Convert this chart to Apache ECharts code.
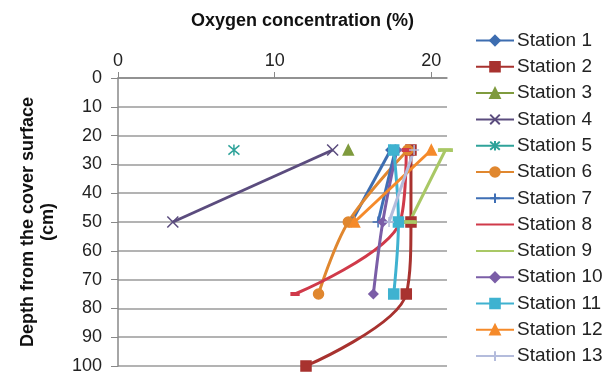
<!DOCTYPE html>
<html>
<head>
<meta charset="utf-8">
<script src="https://cdn.jsdelivr.net/npm/echarts@6/dist/echarts.min.js"></script>
<style>
  html, body { margin: 0; padding: 0; background: #fff; }
  #chart { width: 609px; height: 377px; }
</style>
</head>
<body>
<div id="chart"></div>
<script>
// depth of each sampling level (cm)
var depths = [25, 50, 75, 100];
var depthTicks = [0, 10, 20, 30, 40, 50, 60, 70, 80, 90, 100];
var oxygenTicks = [0, 10, 20];

// oxygen concentration (%) per station at each depth, null = not measured
var station1 = [17.4, 14.9, null, null];
var station2 = [18.7, 18.7, 18.4, 12.0];
var station3 = [14.7, null, null, null];
var station4 = [13.7, 3.5, null, null];
var station5 = [7.4, null, null, null];
var station6 = [18.5, 14.7, 12.8, null];
var station7 = [17.7, 16.6, null, null];
var station8 = [18.4, 18.0, 11.3, null];
var station9 = [20.9, 18.6, null, null];
var station10 = [17.8, 16.9, 16.3, null];
var station11 = [17.6, 17.9, 17.6, null];
var station12 = [20.0, 15.1, null, null];
var station13 = [18.9, 17.3, null, null];

var names = ["Station 1", "Station 2", "Station 3", "Station 4", "Station 5", "Station 6", "Station 7",
  "Station 8", "Station 9", "Station 10", "Station 11", "Station 12", "Station 13"];
var values = [station1, station2, station3, station4, station5, station6, station7,
  station8, station9, station10, station11, station12, station13];

var colors = ["#3d6db0", "#a8322f", "#7f9b3e", "#5b4c7e", "#2fa39a", "#e0872f", "#3f6fb5",
  "#d03a4a", "#a9c865", "#7b5ea7", "#3fb2d0", "#f58a2a", "#b4bcdc"];

var crossPath = "path://M0,0L10,10M10,0L0,10";
var starPath = "path://M0,0L10,10M10,0L0,10M5,-1L5,11";
var plusPath = "path://M5,0L5,10M0,5L10,5";
var symbols = ["diamond", "rect", "triangle", crossPath, starPath, "circle", plusPath,
  "rect", "rect", "diamond", "rect", "triangle", plusPath];
var sizes = [9, 10, 10, 11, 11, 10, 11, [7, 3], [12, 3], 9, 10, 10, 10];

function buildSeries() {
  var list = [];
  for (var i = 0; i < names.length; i++) {
    var pts = [];
    for (var j = 0; j < depths.length; j++) {
      if (values[i][j] !== null) {
        pts.push([values[i][j], depths[j]]);
      }
    }
    var c = colors[i];
    list.push({
      name: names[i],
      type: "line",
      data: pts,
      smooth: 0.35,
      symbol: symbols[i],
      symbolSize: sizes[i],
      showAllSymbol: true,
      lineStyle: { color: c, width: 3 },
      itemStyle: { color: c, borderColor: c, borderWidth: 1.5 },
      emphasis: { disabled: true }
    });
  }
  return list;
}

// station 8 and 9 show only a line in the legend
var legendData = names.map(function (n) {
  if (n === "Station 8" || n === "Station 9") {
    return { name: n, itemStyle: { opacity: 0 } };
  }
  return { name: n };
});

var myChart = echarts.init(document.getElementById("chart"));

var option = {
  animation: false,
  textStyle: { fontFamily: "Liberation Sans, Arial, sans-serif" },
  grid: { left: 118, right: 162, top: 78, bottom: 11, containLabel: false },
  xAxis: {
    type: "value",
    position: "top",
    min: 0,
    max: 21,
    interval: 10,
    name: "Oxygen concentration (%)",
    nameLocation: "middle",
    nameGap: 48,
    nameTextStyle: { fontSize: 18, fontWeight: "bold", color: "#111", padding: [0, 0, 0, 40] },
    axisLine: { onZero: false, lineStyle: { color: "#888", width: 1.5 } },
    axisTick: { show: true, length: 6, customValues: oxygenTicks, lineStyle: { color: "#888" } },
    axisLabel: { customValues: oxygenTicks, fontSize: 18, color: "#222", margin: 8 },
    splitLine: { show: false }
  },
  yAxis: {
    type: "value",
    inverse: true,
    min: 0,
    max: 100,
    interval: 10,
    name: "Depth from the cover surface\n(cm)",
    nameLocation: "middle",
    nameRotate: 90,
    nameGap: 60,
    nameTextStyle: { fontSize: 18, fontWeight: "bold", color: "#111", lineHeight: 20 },
    axisLine: { lineStyle: { color: "#888", width: 1.5 } },
    axisTick: { show: true, length: 7, lineStyle: { color: "#888" } },
    axisLabel: { fontSize: 18, color: "#222", margin: 16 },
    splitLine: { show: true, lineStyle: { color: "#9a9a9a", width: 1.5 } }
  },
  legend: {
    orient: "vertical",
    left: 470,
    top: 26,
    itemWidth: 38,
    itemHeight: 12,
    itemGap: 7.3,
    data: legendData,
    textStyle: { fontSize: 19, color: "#222", lineHeight: 19, padding: [0, 0, 0, -2] }
  },
  series: buildSeries()
};

myChart.setOption(option);
</script>
</body>
</html>
